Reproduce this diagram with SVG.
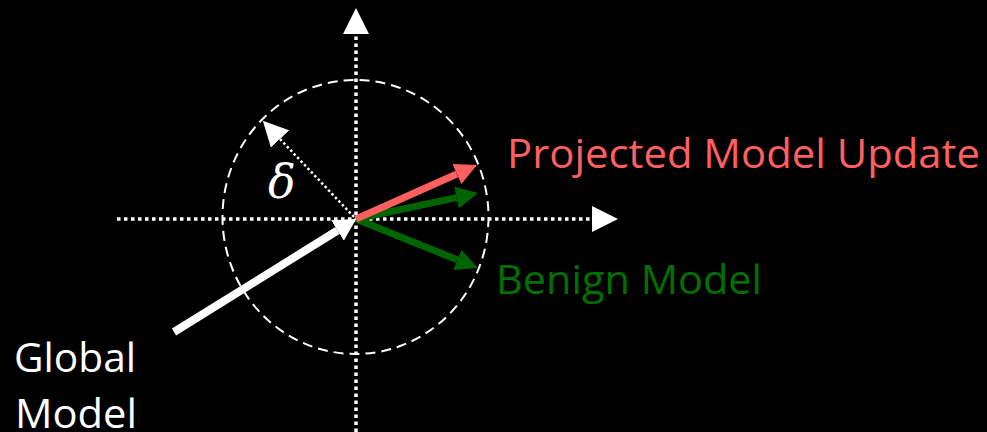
<svg xmlns="http://www.w3.org/2000/svg" width="987" height="432" viewBox="0 0 987 432">
<style>
.axis{stroke:#fff;stroke-width:3.5;stroke-dasharray:3.5 3.5;fill:none}
.rad{stroke:#fff;stroke-width:2.5;stroke-dasharray:2.5 2.5;fill:none}
.circ{stroke:#fff;stroke-width:2;stroke-dasharray:10 6;fill:none}
.vec{fill:none;stroke-linecap:butt}
.lbl{font-family:"Open Sans","Liberation Sans",sans-serif;font-size:40px}
</style>
<defs>
<marker id="axhead" markerUnits="userSpaceOnUse" markerWidth="26" markerHeight="26" refX="0" refY="13" orient="auto" viewBox="0 0 26 26"><path d="M0,0 L26,13 L0,26 z" fill="#fff"/></marker>
<marker id="radhead" markerUnits="userSpaceOnUse" markerWidth="25" markerHeight="25" refX="0" refY="12.5" orient="auto" viewBox="0 0 25 25"><path d="M0,0 L25,12.5 L0,25 z" fill="#fff"/></marker>
<marker id="redhead" markerUnits="userSpaceOnUse" markerWidth="22" markerHeight="22" refX="0" refY="11" orient="auto" viewBox="0 0 22 22"><path d="M0,0 L22,11 L0,22 z" fill="#FF5F5F"/></marker>
<marker id="greenhead" markerUnits="userSpaceOnUse" markerWidth="22" markerHeight="22" refX="0" refY="11" orient="auto" viewBox="0 0 22 22"><path d="M0,0 L22,11 L0,22 z" fill="#006400"/></marker>
<marker id="whitehead" markerUnits="userSpaceOnUse" markerWidth="22" markerHeight="24" refX="0" refY="12" orient="auto" viewBox="0 0 22 24"><path d="M0,0 L22,12 L0,24 z" fill="#fff"/></marker>
</defs>
<rect width="987" height="432" fill="#000"/>
<g id="connectors">
<line class="axis" x1="356" y1="432" x2="356" y2="34" marker-end="url(#axhead)"/>
<line class="axis" x1="117" y1="219" x2="592" y2="219" marker-end="url(#axhead)"/>
<ellipse id="radius-circle" class="circ" cx="355.5" cy="217" rx="133" ry="137"/>
<line class="rad" x1="354" y1="217" x2="280" y2="139" marker-end="url(#radhead)"/>
<line class="vec" stroke="#fff" stroke-width="8" x1="174" y1="332" x2="337.5" y2="230.5" marker-end="url(#whitehead)"/>
<line class="vec" stroke="#006400" stroke-width="7" x1="356" y1="219" x2="456.5" y2="197.6" marker-end="url(#greenhead)"/>
<line class="vec" stroke="#006400" stroke-width="7" x1="356" y1="219" x2="457.3" y2="259.8" marker-end="url(#greenhead)"/>
<line class="vec" stroke="#FF5F5F" stroke-width="7" x1="356" y1="219" x2="456.9" y2="174" marker-end="url(#redhead)"/>
</g>
<g id="delta-label"><text x="268" y="198" font-family="'DejaVu Serif','Liberation Serif',serif" font-style="italic" font-size="46" fill="#fff">δ</text></g>
<g id="projected-label"><text class="lbl" x="507" y="168" fill="#FF5F5F" textLength="473" lengthAdjust="spacingAndGlyphs">Projected Model Update</text></g>
<g id="benign-label"><text class="lbl" x="496" y="294" fill="#007000" textLength="266" lengthAdjust="spacingAndGlyphs">Benign Model</text></g>
<g id="global-label"><text class="lbl" x="14" y="372" fill="#fff" textLength="122" lengthAdjust="spacingAndGlyphs">Global</text><text class="lbl" x="15" y="428" fill="#fff" textLength="122" lengthAdjust="spacingAndGlyphs">Model</text></g>
</svg>
